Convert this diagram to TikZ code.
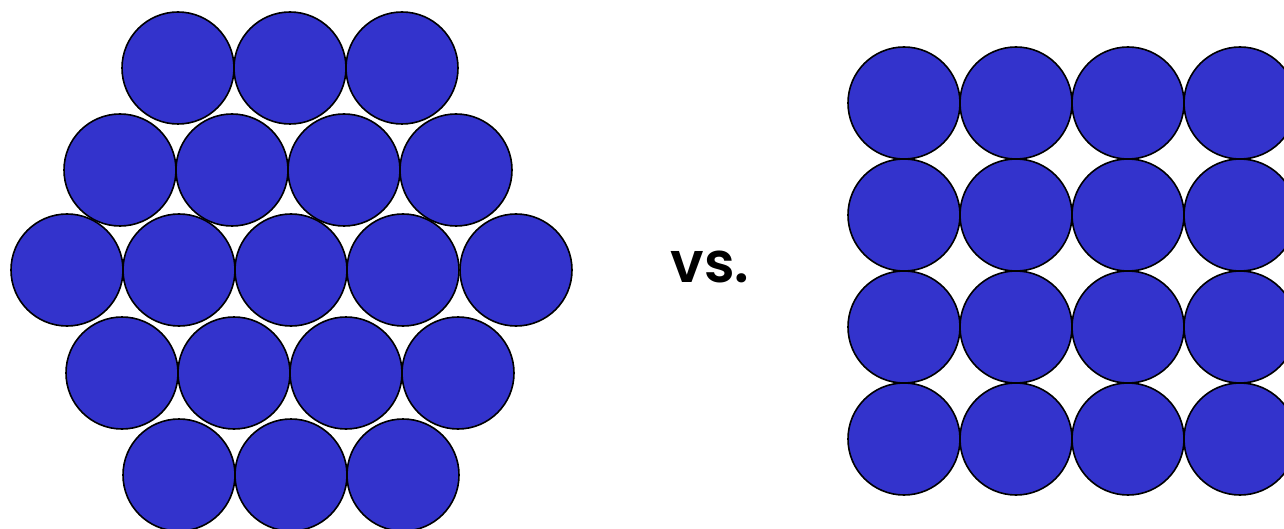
\documentclass[tikz,border=0pt]{standalone}
\usepackage{fontspec}
\newfontfamily\vsfont{Poppins}[UprightFont=* SemiBold]
\definecolor{ball}{HTML}{3333CC}
\begin{document}
\begin{tikzpicture}[x=1pt,y=-1pt,
  ball/.style={circle,draw=black,fill=ball,line width=1.6pt,minimum size=112pt,inner sep=0pt}]
\useasboundingbox (0,0) rectangle (1284,529);
\clip (0,0) rectangle (1284,529);
% hexagonal packing
\foreach \x [count=\i] in {178,290,402} \node[ball] (ha\i) at (\x,68) {};
\foreach \x [count=\i] in {120,232,344,456} \node[ball] (hb\i) at (\x,170) {};
\foreach \x [count=\i] in {67,179,291,403,516} \node[ball] (hc\i) at (\x,270) {};
\foreach \x [count=\i] in {122,234,346,458} \node[ball] (hd\i) at (\x,373) {};
\foreach \x [count=\i] in {179,291,403} \node[ball] (he\i) at (\x,475) {};
% square packing
\foreach \y [count=\j] in {103,215,327,439}
  \foreach \x [count=\i] in {904,1016,1128,1240}
    \node[ball] (s\j\i) at (\x,\y) {};
\node[anchor=base,inner sep=0pt,font=\vsfont\fontsize{56}{56}\selectfont] (vs) at (710,282) {vs.};
\end{tikzpicture}
\end{document}
